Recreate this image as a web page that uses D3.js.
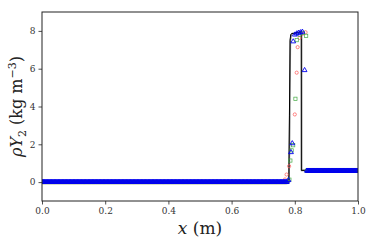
<!DOCTYPE html>
<html>
<head>
<meta charset="utf-8">
<script src="https://cdn.jsdelivr.net/npm/d3@7"></script>
<style>
  body { margin: 0; background: #fff; }
  svg text { font-family: "DejaVu Serif", "Liberation Serif", serif; }
</style>
</head>
<body>
<div id="chart"></div>
<script>
// reference solution (black) and fine solution (grey)
var refX = [0, 0.781, 0.783, 0.785, 0.787, 0.79, 0.80, 0.81, 0.8205, 0.8207, 1.0];
var refY = [0, 0, 3.5, 7.5, 7.8, 7.86, 7.88, 7.92, 7.95, 0.62, 0.62];
var fineX = [0, 0.782, 0.784, 0.786, 0.789, 0.792, 0.80, 0.81, 0.8215, 0.8217, 1.0];
var fineY = [0, 0, 3.5, 7.5, 7.8, 7.86, 7.88, 7.92, 7.95, 0.62, 0.62];

// markers in the jump (three schemes)
var redX = [0.769, 0.774, 0.782, 0.800, 0.806, 0.809, 0.815, 0.825, 0.834];
var redY = [0.14, 0.40, 0.84, 3.58, 5.79, 7.14, 7.63, 7.85, 7.93];
var greenX = [0.783, 0.786, 0.790, 0.795, 0.802, 0.806, 0.815, 0.826, 0.836, 0.840];
var greenY = [0.13, 1.14, 1.68, 1.95, 4.41, 7.51, 7.80, 7.90, 7.74, 0.60];
var blueX = [0.780, 0.788, 0.792, 0.795, 0.800, 0.806, 0.812, 0.818, 0.824, 0.831];
var blueY = [0.10, 1.58, 2.05, 7.44, 7.80, 7.86, 7.90, 7.92, 7.95, 5.92];

// plateau levels on each side of the jump
var leftLevel = 0, rightLevel = 0.6;
var leftEnd = 0.776, rightStart = 0.838, step = 0.0025;

var xTicks = [0, 0.2, 0.4, 0.6, 0.8, 1.0];
var yTicks = [0, 2, 4, 6, 8];

var W = 374, H = 249;
var m = {l: 42, r: 16, t: 12, b: 48};

var svg = d3.select("#chart").append("svg").attr("width", W).attr("height", H);
var x = d3.scaleLinear().domain([0, 1]).range([m.l, W - m.r]);
var y = d3.scaleLinear().domain([-1, 9]).range([H - m.b, m.t]);

// plateau samples
function plateau(a, b, v) {
    var pts = [];
    for (var t = a; t <= b + 1e-9; t += step) pts.push([t, v]);
    return pts;
}
var flat = plateau(0, leftEnd, leftLevel).concat(plateau(rightStart, 1, rightLevel));
var zip = function(xs, ys) { return xs.map(function(d, i) { return [d, ys[i]]; }); };

var g = svg.append("g");
svg.append("clipPath").attr("id", "c").append("rect")
    .attr("x", m.l).attr("y", m.t).attr("width", W - m.l - m.r).attr("height", H - m.t - m.b);
g.attr("clip-path", "url(#c)");

var line = d3.line().x(function(d) { return x(d[0]); }).y(function(d) { return y(d[1]); });
g.append("path").datum(zip(fineX, fineY)).attr("d", line)
    .attr("fill", "none").attr("stroke", "#888").attr("stroke-width", 1.6);
g.append("path").datum(zip(refX, refY)).attr("d", line)
    .attr("fill", "none").attr("stroke", "#000").attr("stroke-width", 1);

// red circles
g.selectAll(".r").data(flat.concat(zip(redX, redY))).enter().append("circle")
    .attr("cx", function(d) { return x(d[0]); }).attr("cy", function(d) { return y(d[1]); })
    .attr("r", 1.6).attr("fill", "none").attr("stroke", "#ff5555").attr("stroke-width", 0.7);
// green squares
g.selectAll(".g").data(flat.concat(zip(greenX, greenY))).enter().append("rect")
    .attr("x", function(d) { return x(d[0]) - 1.6; }).attr("y", function(d) { return y(d[1]) - 1.6; })
    .attr("width", 3.2).attr("height", 3.2)
    .attr("fill", "none").attr("stroke", "#44aa44").attr("stroke-width", 0.7);
// blue triangles
var tri = d3.symbol().type(d3.symbolTriangle).size(10);
g.selectAll(".b").data(flat.concat(zip(blueX, blueY))).enter().append("path")
    .attr("d", tri)
    .attr("transform", function(d) { return "translate(" + x(d[0]) + "," + y(d[1]) + ")"; })
    .attr("fill", "none").attr("stroke", "#0000ee").attr("stroke-width", 0.9);

// axes
var xa = svg.append("g").attr("transform", "translate(0," + (H - m.b) + ")")
    .call(d3.axisBottom(x).tickValues(xTicks).tickFormat(d3.format(".1f")).tickSize(3.5).tickPadding(3));
var ya = svg.append("g").attr("transform", "translate(" + m.l + ",0)")
    .call(d3.axisLeft(y).tickValues(yTicks).tickFormat(d3.format("d")).tickSize(3.5).tickPadding(3));
[xa, ya].forEach(function(a) {
    a.select(".domain").remove();
    a.selectAll("line").attr("stroke", "#222").attr("stroke-width", 0.8);
    a.selectAll("text").attr("font-size", 9).attr("fill", "#333");
});
svg.append("rect").attr("x", m.l).attr("y", m.t)
    .attr("width", W - m.l - m.r).attr("height", H - m.t - m.b)
    .attr("fill", "none").attr("stroke", "#222").attr("stroke-width", 1);

// labels
var xl = svg.append("text").attr("x", (m.l + W - m.r) / 2).attr("y", 234)
    .attr("text-anchor", "middle").attr("font-size", 17).attr("fill", "#222");
xl.append("tspan").attr("font-style", "italic").text("x");
xl.append("tspan").text(" (m)");

var yl = svg.append("text").attr("transform", "translate(22," + ((m.t + H - m.b) / 2) + ") rotate(-90)")
    .attr("text-anchor", "middle").attr("font-size", 16).attr("fill", "#222");
yl.append("tspan").attr("font-style", "italic").text("ρY");
yl.append("tspan").attr("font-size", 11).attr("dy", 4).text("2");
yl.append("tspan").attr("dy", -4).text(" (kg m");
yl.append("tspan").attr("font-size", 11).attr("dy", -6).text("−3");
yl.append("tspan").attr("dy", 6).text(")");
</script>
</body>
</html>
